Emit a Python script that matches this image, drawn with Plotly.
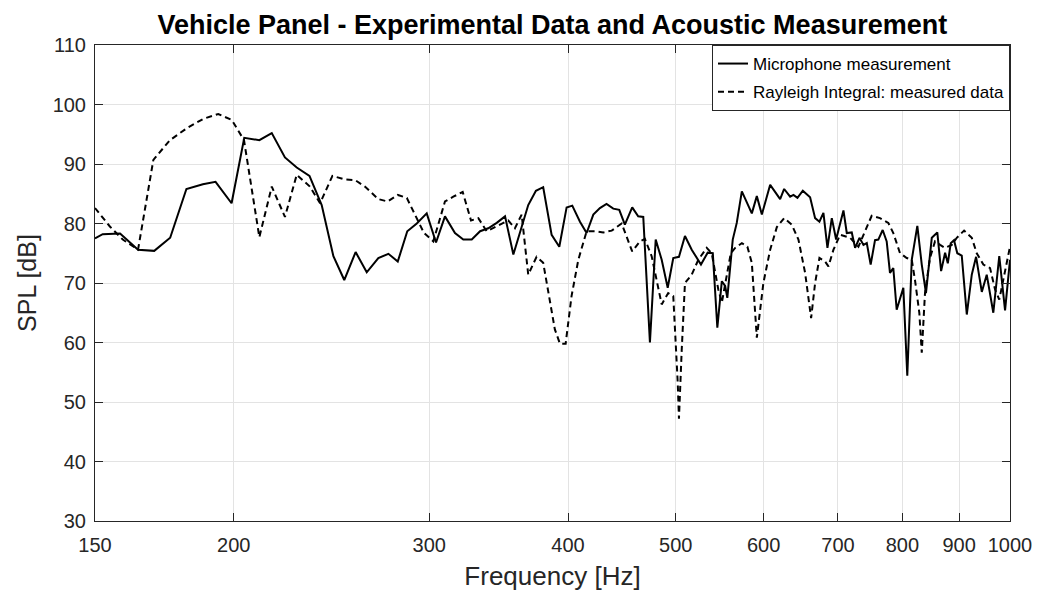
import plotly.graph_objects as go

mic_freq = [150, 152.4, 158.0, 164.0, 169.6, 175.3, 181.3, 187.6, 192.6, 199.1, 204.4, 210.9, 216.4, 222.4,
            227.9, 234.0, 240.0, 245.9, 251.5, 257.5, 263.5, 269.9, 275.6, 281.0, 286.6, 292.3, 298.4, 304.2,
            309.9, 316.4, 321.9, 327.6, 333.3, 339.0, 345.0, 351.0, 357.1, 363.3, 368.3, 374.2, 379.9, 386.6,
            392.8, 398.8, 403.5, 410.0, 415.7, 421.5, 427.3, 433.2, 439.3, 444.8, 450.0, 456.9, 462.6, 467.5,
            474.0, 479.7, 485.7, 491.8, 497.5, 503.4, 509.7, 516.9, 526.9, 534.3, 540.0, 545.1, 550.2, 554.0,
            556.5, 562.8, 567.5, 573.5, 585.5, 591.6, 597.8, 608.2, 620.9, 626.1, 633.9, 638.3, 643.6, 650.8,
            660.7, 667.6, 673.6, 679.2, 684.9, 691.1, 697.3, 708.0, 712.9, 720.3, 725.3, 731.9, 738.0, 743.1,
            749.1, 755.9, 761.1, 768.0, 774.4, 779.7, 785.1, 790.6, 801.6, 808.2, 815.7, 825.2, 832.8, 840.1,
            850.3, 860.1, 866.9, 874.1, 879.0, 884.4, 890.4, 896.5, 904.8, 914.3, 923.8, 932.1, 943.2, 952.9,
            966.0, 978.0, 989.8, 1000]
mic_spl = [77.5, 78.2, 78.3, 75.6, 75.4, 77.6, 85.8, 86.6, 87.0, 83.4, 94.4, 94.0, 95.2, 91.1,
           89.4, 88.0, 83.1, 74.5, 70.5, 75.2, 71.8, 74.2, 74.9, 73.6, 78.7, 80.0, 81.7, 76.8,
           81.2, 78.4, 77.3, 77.3, 78.7, 79.2, 80.1, 81.2, 74.8, 79.2, 83.1, 85.5, 86.1, 78.1,
           76.1, 82.7, 83.0, 80.3, 78.4, 81.5, 82.6, 83.3, 82.5, 82.3, 79.8, 82.7, 81.2, 81.1,
           60.0, 77.3, 73.9, 69.2, 74.2, 74.4, 77.9, 75.6, 73.1, 75.1, 75.0, 62.5, 70.3, 69.5,
           67.5, 77.3, 80.1, 85.4, 81.7, 84.6, 81.5, 86.5, 84.1, 85.8, 84.5, 84.8, 84.3, 85.5,
           84.4, 80.9, 80.3, 81.8, 75.9, 80.9, 77.3, 82.2, 78.4, 78.5, 75.9, 77.6, 76.4, 76.7,
           73.1, 77.2, 77.3, 78.9, 77.0, 71.7, 72.5, 65.5, 69.2, 54.4, 73.9, 79.6, 73.1, 68.3,
           77.6, 78.5, 72.0, 75.1, 73.3, 76.7, 77.2, 75.0, 74.6, 64.7, 71.4, 74.4, 68.5, 71.4,
           65.0, 74.5, 65.4, 73.9]

ray_freq = [150, 154.7, 158.9, 164.0, 169.3, 175.2, 181.4, 187.8, 193.7, 199.2, 204.3, 210.9, 216.4, 222.4,
            227.9, 234.2, 239.2, 245.4, 251.9, 257.2, 262.5, 269.9, 275.2, 281.0, 286.3, 291.2, 296.7, 302.5,
            309.9, 315.3, 321.5, 327.1, 332.1, 337.9, 345.0, 353.4, 358.3, 363.3, 368.3, 374.7, 379.9, 385.2,
            389.2, 393.3, 398.0, 402.9, 408.6, 415.7, 422.9, 430.3, 437.9, 447.0, 456.9, 464.3, 469.1, 475.7,
            485.7, 492.3, 497.5, 502.1, 503.4, 506.3, 509.7, 516.9, 524.0, 533.2, 538.8, 540.6, 546.2, 550.2,
            555.1, 560.5, 565.6, 573.5, 580.1, 585.5, 591.6, 599.7, 608.2, 616.7, 626.1, 636.1, 644.9, 653.9,
            662.1, 667.6, 673.6, 681.6, 686.3, 693.5, 703.1, 717.8, 730.3, 740.4, 750.7, 763.7, 777.0, 785.1,
            796.1, 807.3, 815.7, 821.2, 828.6, 832.8, 838.4, 847.1, 856.0, 865.1, 874.1, 886.3, 895.5, 909.2,
            923.8, 933.4, 946.2, 959.5, 969.5, 978.0, 986.2, 996.5, 1000]
ray_spl = [82.6, 79.5, 77.3, 75.6, 90.7, 94.0, 96.0, 97.6, 98.4, 97.4, 94.0, 77.7, 86.2, 81.1,
           88.2, 86.2, 83.4, 88.0, 87.4, 87.3, 86.2, 84.1, 83.7, 84.8, 84.3, 81.5, 78.4, 77.0,
           83.7, 84.5, 85.3, 80.5, 80.9, 78.7, 79.5, 80.5, 79.2, 81.5, 71.4, 74.4, 73.4, 67.2,
           62.2, 59.8, 59.8, 67.8, 73.9, 78.7, 78.7, 78.5, 78.8, 80.0, 75.3, 77.0, 77.4, 74.5,
           66.4, 68.3, 67.8, 53.3, 47.2, 58.8, 70.0, 71.4, 73.9, 75.9, 75.0, 73.5, 68.9, 66.7,
           70.6, 75.0, 75.9, 76.7, 76.1, 73.4, 60.8, 70.0, 75.6, 79.4, 80.9, 79.8, 77.3, 71.7,
           64.1, 70.0, 74.2, 73.6, 72.8, 75.6, 78.1, 77.6, 76.1, 78.7, 81.3, 80.9, 80.1, 78.4,
           75.0, 74.2, 73.9, 70.5, 65.0, 58.3, 68.3, 74.2, 77.0, 76.4, 75.9, 76.4, 77.6, 78.8,
           77.6, 75.0, 73.1, 72.5, 68.9, 67.2, 70.5, 75.0, 76.1]

x_ticks = [150, 200, 300, 400, 500, 600, 700, 800, 900, 1000]
x_tick_labels = ["150", "200", "300", "400", "500", "600", "700", "800", "900", "1000"]
y_ticks = [30, 40, 50, 60, 70, 80, 90, 100, 110]

font_family = "Liberation Sans, Arial, sans-serif"
axis_col = "#262626"

fig = go.Figure()
fig.add_trace(go.Scatter(x=mic_freq, y=mic_spl, mode="lines", name="Microphone measurement",
                         legendgroup="mic", line=dict(color="black", width=2)))
fig.add_trace(go.Scatter(x=ray_freq, y=ray_spl, mode="lines", name="Rayleigh Integral: measured data",
                         legendgroup="ray", line=dict(color="black", width=2, dash="6px,4px")))

fig.update_layout(
    width=1052, height=593,
    margin=dict(l=95, r=42, t=45, b=72),
    paper_bgcolor="white", plot_bgcolor="white",
    font=dict(family=font_family, color=axis_col, size=20),
    title=dict(text="<b>Vehicle Panel - Experimental Data and Acoustic Measurement</b>",
               x=0.525, xanchor="center", y=0.958, yanchor="middle",
               font=dict(size=27, color="black", family=font_family)),
    showlegend=True,
    legend=dict(x=1, xanchor="right", y=1, yanchor="top", bgcolor="white",
                bordercolor=axis_col, borderwidth=1, font=dict(size=17, color="black"),
                tracegroupgap=3, itemwidth=30),
)
fig.update_xaxes(type="log", range=[2.176091, 3.0], tickvals=x_ticks, ticktext=x_tick_labels,
                 automargin=False,
                 showgrid=True, gridcolor="#e3e3e3", gridwidth=1,
                 showline=True, linecolor=axis_col, linewidth=1, mirror="ticks",
                 ticks="inside", ticklen=8, tickcolor=axis_col, zeroline=False,
                 ticklabelstandoff=6,
                 title=dict(text="Frequency [Hz]", font=dict(size=26, color=axis_col), standoff=11))
fig.update_yaxes(range=[30, 110], tickvals=y_ticks,
                 automargin=False,
                 showgrid=True, gridcolor="#e3e3e3", gridwidth=1,
                 showline=True, linecolor=axis_col, linewidth=1, mirror="ticks",
                 ticks="inside", ticklen=8, tickcolor=axis_col, zeroline=False,
                 ticklabelstandoff=4,
                 title=dict(text="SPL [dB]", font=dict(size=25, color=axis_col), standoff=8))

fig.write_html("out.html")
